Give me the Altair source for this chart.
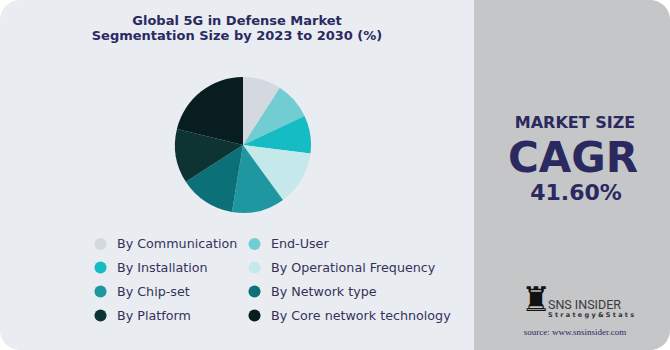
import altair as alt
import pandas as pd

segments = [
    "By Communication", "End-User", "By Installation", "By Operational Frequency",
    "By Chip-set", "By Network type", "By Platform", "By Core network technology",
]
shares = [9.1, 8.9, 9.0, 13.0, 12.6, 13.3, 12.9, 21.2]
colors = ["#d3d9de", "#72cdd2", "#15bcc4", "#c5e8ea", "#1f97a1", "#0c7079", "#0d3333", "#071d20"]

title_lines = ["Global 5G in Defense Market", "Segmentation Size by 2023 to 2030 (%)"]
cagr_label = "MARKET SIZE"
cagr_word = "CAGR"
cagr_value = "41.60%"

W, H = 670, 350
NAVY = "#2a2960"

df = pd.DataFrame({"segment": segments, "share": shares, "idx": list(range(len(segments)))})
one = pd.DataFrame({"k": [0]})

bg = alt.Chart(one).mark_rect(color="#e9ecf1", cornerRadius=20).encode(
    x=alt.value(0), x2=alt.value(W), y=alt.value(0), y2=alt.value(H))
right = alt.Chart(one).mark_rect(
    color="#c5c6c8", cornerRadiusTopRight=20, cornerRadiusBottomRight=20
).encode(x=alt.value(474), x2=alt.value(W), y=alt.value(0), y2=alt.value(H))

pie = alt.Chart(df).mark_arc(outerRadius=68).encode(
    theta=alt.Theta("share:Q", stack=True),
    color=alt.Color(
        "segment:N",
        scale=alt.Scale(domain=segments, range=colors),
        sort=segments,
        title=None,
        legend=alt.Legend(
            orient="none", legendX=94, legendY=237, columns=2, direction="horizontal",
            symbolType="circle", symbolSize=145, symbolStrokeWidth=0,
            labelFont="DejaVu Sans", labelFontSize=12.7, labelColor="#33335a",
            labelOffset=10, rowPadding=10, columnPadding=10, labelLimit=300,
        ),
    ),
    order=alt.Order("idx:Q"),
    x=alt.value(243), y=alt.value(145),
)

def txt(s, x, y, size, weight="bold", color=NAVY, font="DejaVu Sans", align="center",
        baseline="alphabetic"):
    return alt.Chart(one).mark_text(
        text=s, fontSize=size, fontWeight=weight, color=color, font=font,
        align=align, baseline=baseline
    ).encode(x=alt.value(x), y=alt.value(y))

layers = [bg, right, pie,
          txt(title_lines[0], 237, 24.5, 13),
          txt(title_lines[1], 237, 39.5, 13),
          txt(cagr_label, 575, 128, 16),
          txt(cagr_word, 573, 172, 42),
          txt(cagr_value, 576, 200, 22),
          txt("\u265c", 536, 301, 34, weight="normal", color="#111111", baseline="middle"),
          txt("SNS INSIDER", 548, 309, 12.5, weight="normal", color="#3a3a3a",
              font="Roboto", align="left"),
          txt("S t r a t e g y  &  S t a t s", 548, 316.5, 6.5, weight="bold", color="#333333",
              align="left"),
          txt("source: www.snsinsider.com", 575, 332, 9, weight="normal", color="#2a2960",
              font="Liberation Serif", baseline="middle"),
          ]

chart = alt.layer(*layers).properties(
    width=W, height=H, autosize=alt.AutoSizeParams(type="none"), padding=0,
    background="white",
).configure_view(stroke=None)

chart.save("out.html", embed_options={"renderer": "svg", "actions": False})
